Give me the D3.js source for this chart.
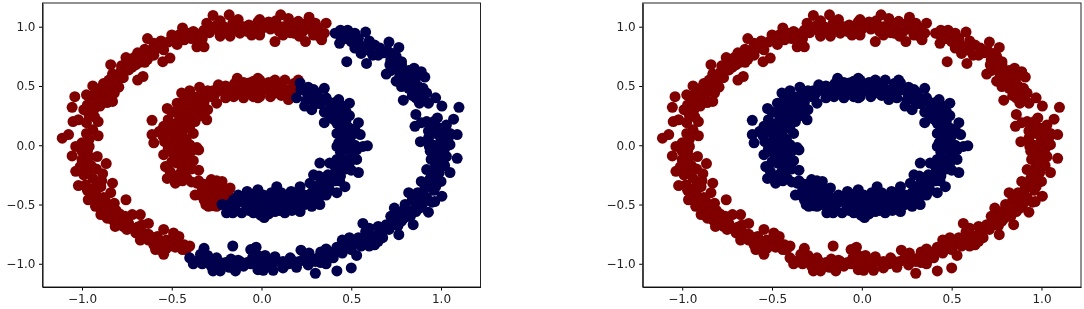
<!DOCTYPE html>
<html>
<head>
<meta charset="utf-8">
<script src="https://cdn.jsdelivr.net/npm/d3@7"></script>
<style>
  html, body { margin: 0; padding: 0; background: #fff; }
  svg { display: block; filter: blur(0.35px); }
  .tick text { font-family: "DejaVu Sans", sans-serif; font-size: 12px; fill: #222; }
</style>
</head>
<body>
<svg id="chart" width="1084" height="309"></svg>
<script>
// Values, [x, y] in data units
const outerRed = [
  [-1.11,0.06],[-1.075,0.09],[-1.04,0.41],[-1.055,0.32],[-1.05,0.2],[-1.02,0.215],[-0.975,0.425],[-0.94,0.5],
  [-0.99,0.3],[-0.935,0.3],[-0.91,0.2],[-0.975,0.19],[-0.975,0.1],[-0.91,0.08],[-1.035,-0.01],[-0.96,-0.01],
  [-0.95,0.355],[-0.905,0.385],[-0.83,0.37],[-0.895,0.48],[-0.84,0.525],[-0.795,0.49],[-0.84,0.68],[-0.785,0.62],
  [-0.81,0.565],[-0.755,0.74],[-0.69,0.55],[-0.66,0.58],[-0.74,0.635],[-0.69,0.78],[-0.65,0.81],[-0.635,0.9],
  [-0.6,0.86],[-0.56,0.88],[-0.635,0.725],[-0.6,0.76],[-0.55,0.705],[-0.51,0.735],[-0.545,0.805],[-0.5,0.93],
  [-0.47,0.85],[-0.44,0.99],[-0.415,0.92],[-0.36,0.83],[-0.32,0.83],[-0.38,0.96],[-0.32,0.97],[-0.305,1.03],
  [-0.27,1.095],[-0.245,1.015],[-0.23,0.92],[-0.18,1.1],[-0.175,0.92],[-0.13,1.06],[-0.12,0.945],[-0.07,1.015],
  [-0.055,0.93],[-0.02,1.04],[-0.01,0.93],[-0.01,1.06],[-0.045,0.96],[0.03,1.015],[0.107,1.1],[0.075,0.875],
  [0.15,1.07],[0.12,1],[0.18,0.945],[0.205,1.045],[0.265,1.08],[0.245,0.875],[0.23,0.96],[0.315,0.99],
  [0.36,1.03],[0.335,0.89],[0.35,0.945],[-0.4,-0.85],[-0.46,-0.77],[-0.49,-0.74],[-0.44,-0.88],[-0.545,-0.92],
  [-0.545,-0.71],[-0.51,-0.85],[-0.6,-0.84],[-0.58,-0.77],[-0.675,-0.8],[-0.63,-0.66],[-0.675,-0.585],[-0.665,-0.67],
  [-0.72,-0.585],[-0.755,-0.46],[-0.815,-0.685],[-0.77,-0.685],[-0.83,-0.32],[-0.84,-0.4],[-0.82,-0.49],[-0.895,-0.585],
  [-0.86,-0.615],[-0.965,-0.46],[-0.925,-0.515],[-1.02,-0.34],[-0.98,-0.335],[-0.895,-0.35],[-1.035,-0.22],[-0.96,-0.205],
  [-0.885,-0.24],[-0.865,-0.155],[-1.055,-0.09],[-0.99,-0.15],[-0.915,-0.095],[-1,-0.05],
  [-0.96,0.05],[-0.94,0.13],[-0.96,0.25],[-0.93,0.24],[-0.97,0.34],[-0.93,0.36],[-0.92,0.44],[-0.87,0.43],
  [-0.86,0.36],[-0.88,0.52],[-0.85,0.46],[-0.82,0.44],[-0.8,0.56],[-0.77,0.57],[-0.83,0.6],[-0.78,0.67],
  [-0.74,0.7],[-0.72,0.66],[-0.71,0.74],[-0.68,0.7],[-0.66,0.75],[-0.62,0.78],[-0.6,0.82],[-0.52,0.87],
  [-0.49,0.91],[-0.46,0.93],[-0.43,0.89],[-0.39,0.9],[-0.36,0.94],[-0.33,0.9],[-0.29,0.95],[-0.27,1],
  [-0.21,1],[-0.2,0.97],[-0.16,1.03],[-0.1,1],[-0.14,0.98],[-0.05,1],[0,0.98],[0.04,1.04],
  [0.05,0.98],[0.08,1.05],[0.1,0.96],[0.14,1],[0.17,1.03],[0.2,0.98],[0.27,0.98],[0.29,0.93],
  [0.25,1.03],[0.32,0.92],[-1,-0.12],[-0.96,-0.1],[-0.95,-0.17],[-0.92,-0.2],[-0.99,-0.25],[-0.94,-0.28],
  [-0.93,-0.36],[-0.89,-0.3],[-0.97,-0.05],[-0.92,-0.42],[-0.88,-0.44],[-0.9,-0.5],[-0.85,-0.53],[-0.87,-0.47],
  [-0.83,-0.58],[-0.79,-0.58],[-0.78,-0.63],[-0.74,-0.66],[-0.72,-0.7],[-0.7,-0.74],[-0.66,-0.74],[-0.63,-0.75],
  [-0.6,-0.78],[-0.56,-0.82],[-0.53,-0.8],[-0.5,-0.79],[-0.46,-0.83],[-0.42,-0.88],[-0.56,-0.87],[-0.63,-0.8],
  [-1,0.02],[-0.94,0.42],[-0.9,0.33],[-0.87,0.47],[-0.91,0.44],[-0.85,0.55],[-0.76,0.63],[-0.7,0.68],
  [-0.65,0.7],[-0.58,0.82],[-0.55,0.86],[-0.47,0.89],[-0.42,0.95],[-0.34,0.87],[-0.24,0.97],[-0.18,0.98],
  [-0.23,1.05],[-0.08,0.96],[-0.03,0.98],[0.07,1],[0.16,0.95],[0.12,0.93],[0.21,0.92],[0.3,1.03],
  [-1.01,-0.18],[-0.98,-0.2],[-0.91,-0.33],[-0.97,-0.38],[-0.94,-0.45],[-0.89,-0.55],[-0.83,-0.63],[-0.81,-0.55],
  [-0.76,-0.6],[-0.75,-0.71],[-0.69,-0.69],[-0.65,-0.78],[-0.59,-0.88],[-0.53,-0.87],[-0.48,-0.86],[-0.43,-0.84]
];
const outerBlue = [
  [0.41,0.945],[0.435,0.86],[0.48,0.97],[0.52,0.945],[0.58,0.955],[0.475,0.705],[0.5,0.875],[0.555,0.775],
  [0.585,0.69],[0.63,0.845],[0.65,0.76],[0.71,0.87],[0.765,0.825],[0.73,0.775],[0.695,0.6],[0.78,0.705],
  [0.715,0.68],[0.75,0.54],[0.78,0.495],[0.79,0.38],[0.85,0.65],[0.91,0.575],[0.89,0.62],[0.825,0.595],
  [0.845,0.455],[0.9,0.48],[0.88,0.355],[0.93,0.355],[0.97,0.4],[1.005,0.33],[1.1,0.32],[0.86,0.26],
  [0.855,0.16],[0.92,0.2],[0.945,0.16],[0.99,0.145],[1.03,0.17],[1.07,0.22],[1.09,0.09],[1.05,0.1],
  [0.885,0.03],[0.935,-0.01],[0.99,0.005],[1.05,0.005],[1.09,-0.11],[1.03,-0.095],[0.97,-0.07],[1.05,-0.23],
  [1,-0.18],[0.92,-0.205],[0.945,-0.12],[0.89,-0.305],[0.945,-0.32],[1,-0.305],[1.005,-0.43],[0.965,-0.475],
  [0.93,-0.565],[0.82,-0.4],[0.87,-0.4],[0.9,-0.49],[0.86,-0.56],[0.8,-0.5],[0.74,-0.53],[0.81,-0.6],
  [0.845,-0.67],[0.78,-0.64],[0.72,-0.6],[0.695,-0.67],[0.765,-0.755],[0.565,-0.66],[0.6,-0.7],[0.65,-0.685],
  [0.63,-0.84],[0.675,-0.78],[0.595,-0.78],[0.49,-0.78],[0.54,-0.78],[0.53,-0.93],[0.555,-0.85],[0.445,-0.85],
  [0.5,-0.88],[0.5,-1.035],[0.42,-1.06],[0.41,-0.895],[0.36,-0.875],[0.315,-0.95],[0.36,-1],[0.3,-1.08],
  [0.265,-0.91],[0.22,-0.885],[0.26,-1.01],[0.195,-1.03],[0.16,-0.95],[0.12,-1.035],[0.065,-1.055],[0.075,-0.94],
  [0.02,-0.93],[0.01,-1.055],[-0.03,-0.99],[-0.03,-0.86],[-0.035,-0.87],[-0.01,-1.02],[-0.06,-0.88],[-0.08,-0.99],
  [-0.145,-1.06],[-0.16,-0.85],[-0.12,-0.98],[-0.2,-0.99],[-0.23,-1.06],[-0.27,-1.06],[-0.25,-0.95],[-0.32,-0.87],
  [-0.305,-0.98],[-0.34,-0.92],[-0.38,-1],[-0.4,-0.95],
  [0.44,0.92],[0.47,0.9],[0.5,0.93],[0.54,0.86],[0.57,0.83],[0.6,0.8],[0.52,0.82],[0.62,0.76],
  [0.68,0.78],[0.72,0.72],[0.74,0.68],[0.76,0.64],[0.72,0.63],[0.77,0.58],[0.8,0.6],[0.83,0.55],
  [0.86,0.57],[0.82,0.48],[0.87,0.5],[0.88,0.43],[0.9,0.4],[0.86,0.4],[0.89,0.19],[0.96,0.2],
  [0.98,0.23],[1.02,0.12],[0.97,0.1],[0.93,0.12],[1,0.05],[1.04,0.06],[0.96,0],[1.02,-0.03],
  [0.98,-0.04],[0.96,-0.11],[1.01,-0.12],[0.99,-0.23],[0.95,-0.22],[0.94,-0.28],[0.97,-0.28],[0.91,-0.36],
  [0.96,-0.38],[0.92,-0.44],[0.88,-0.45],[0.84,-0.46],[0.86,-0.5],[0.82,-0.55],[0.78,-0.56],[0.75,-0.6],
  [0.76,-0.68],[0.72,-0.66],[0.68,-0.71],[0.65,-0.75],[0.62,-0.77],[0.58,-0.73],[0.57,-0.82],[0.52,-0.83],
  [0.47,-0.84],[0.45,-0.91],[0.4,-0.95],[0.33,-0.9],[0.36,-0.94],[0.3,-0.98],[0.24,-0.95],[0.21,-0.98],
  [0.15,-1],[0.09,-0.98],[0.05,-1],[0.02,-0.98],[-0.05,-0.95],[-0.02,-1.05],[-0.1,-1.02],[-0.15,-1],
  [-0.17,-0.96],[-0.22,-1.01],[-0.24,-0.98],[-0.3,-0.93],[-0.35,-0.97],[-0.28,-1.02],
  [0.44,0.97],[0.54,0.9],[0.6,0.88],[0.66,0.82],[0.7,0.8],[0.75,0.75],[0.78,0.68],[0.82,0.63],
  [0.79,0.55],[0.85,0.52],[0.84,0.42],[0.92,0.44],[0.93,0.06],[1.03,0.02],[0.94,-0.05],[1,-0.08],
  [1.02,-0.17],[0.97,-0.17],[0.97,-0.35],[0.9,-0.4],[0.95,-0.48],[0.88,-0.53],[0.83,-0.6],[0.79,-0.62],
  [0.71,-0.71],[0.65,-0.81],[0.6,-0.85],[0.5,-0.8],[0.45,-0.8],[0.42,-0.86],[0.38,-0.9],[0.33,-0.99],
  [0.28,-0.96],[0.18,-0.98],[0.12,-0.98],[-0.02,-0.93],[-0.06,-1],[-0.13,-0.97],[-0.18,-1.03],[-0.27,-0.99],[-0.33,-1]
];
const innerRed = [
  [-0.61,0.21],[-0.61,0.09],[-0.6,0.02],[-0.57,0.115],[-0.525,0.31],[-0.52,0.215],[-0.545,0.16],[-0.445,0.44],
  [-0.4,0.46],[-0.345,0.49],[-0.305,0.215],[-0.315,0.285],[-0.47,0.355],[-0.415,0.27],[-0.445,0.1],[-0.51,0.02],
  [-0.36,-0.02],[-0.4,0.005],[-0.39,0.38],[-0.36,0.33],[-0.47,0.19],[-0.36,0.41],[-0.24,0.51],[-0.25,0.355],
  [-0.195,0.44],[-0.135,0.565],[-0.155,0.41],[-0.1,0.4],[-0.07,0.525],[-0.02,0.565],[-0.045,0.41],[-0.01,0.41],
  [-0.545,-0.08],[-0.49,-0.07],[-0.535,-0.18],[-0.525,-0.28],[-0.48,-0.32],[-0.425,-0.135],[-0.35,-0.21],[-0.415,-0.28],
  [-0.35,-0.04],[-0.36,-0.32],[-0.37,-0.42],[-0.28,-0.29],[-0.295,-0.515],[-0.22,-0.305],[-0.265,-0.39],[-0.32,-0.46],
  [-0.175,-0.36],[-0.23,-0.43],[-0.25,-0.515],[-0.445,-0.22],[-0.47,-0.15],[-0.045,0.54],[-0.01,0.55],[-0.02,0.4],
  [0.05,0.41],[0.075,0.55],[0.13,0.55],[0.15,0.385],[0.205,0.55],[0.09,0.45],[0.02,0.48],[0.17,0.48],[-0.05,0.45],
  [-0.5,0.1],[-0.48,0.05],[-0.47,0.27],[-0.44,0.33],[-0.42,0.2],[-0.4,0.14],[-0.38,0.26],[-0.4,0.36],
  [-0.43,0.39],[-0.37,0.2],[-0.34,0.25],[-0.35,0.37],[-0.32,0.42],[-0.3,0.46],[-0.28,0.41],[-0.22,0.46],
  [-0.2,0.5],[-0.17,0.48],[-0.12,0.49],[-0.1,0.53],[-0.45,0.03],[-0.46,-0.04],[-0.42,0.05],[-0.5,-0.02],
  [-0.54,0.03],[-0.5,-0.14],[-0.46,-0.25],[-0.42,-0.07],[-0.39,-0.05],[-0.39,-0.2],[-0.35,-0.3],[-0.32,-0.33],
  [-0.33,-0.38],[-0.3,-0.42],[-0.27,-0.45],[-0.22,-0.38],[-0.2,-0.42],[-0.28,-0.35],[-0.25,-0.3],[-0.18,-0.43],
  [-0.2,-0.48],[0,0.5],[0.05,0.49],[0.1,0.5],[0.15,0.45],[0,0.45],[0.07,0.44],[0.18,0.52],
  [-0.55,0.08],[-0.52,0.12],[-0.49,0.17],[-0.46,0.12],[-0.43,0.15],[-0.5,0.28],[-0.45,0.24],[-0.41,0.31],
  [-0.38,0.1],[-0.44,-0.01],[-0.41,-0.03],[-0.52,-0.03],[-0.47,0.01],[-0.51,-0.22],[-0.47,-0.09],[-0.44,-0.18],
  [-0.41,-0.2],[-0.38,-0.13],[-0.48,-0.26],[-0.44,-0.3],[-0.39,-0.31],[-0.34,-0.42],[-0.31,-0.5],[-0.27,-0.51],
  [-0.24,-0.46],[-0.23,-0.35],[-0.26,-0.42],[-0.27,0.46],[-0.26,0.43],[-0.2,0.4],[-0.13,0.44],[-0.08,0.46],
  [-0.15,0.52],[-0.04,0.5],[0.04,0.53],[0.11,0.42],[0.13,0.47],[0.2,0.46],[-0.32,0.36],[-0.3,0.3],[-0.33,0.3]
];
const innerBlue = [
  [-0.22,-0.5],[-0.195,-0.57],[-0.155,-0.46],[-0.11,-0.57],[-0.08,-0.39],[-0.09,-0.49],[-0.045,-0.515],[-0.13,-0.42],
  [-0.03,-0.4],[-0.005,-0.59],[-0.045,-0.57],[-0.02,-0.375],[0.015,-0.61],[-0.01,-0.515],[0.085,-0.35],[0.055,-0.4],
  [0.13,-0.57],[0.075,-0.56],[0.165,-0.39],[0.215,-0.56],[0.215,-0.35],[0.28,-0.515],[0.325,-0.5],[0.29,-0.25],
  [0.27,-0.32],[0.325,-0.15],[0.36,-0.35],[0.42,-0.4],[0.465,-0.35],[0.38,-0.15],[0.4,-0.25],[0.435,-0.3],
  [0.54,-0.23],[0.5,-0.21],[0.53,-0.12],[0.455,-0.12],[0.49,-0.05],[0.215,0.525],[0.195,0.4],[0.28,0.3],
  [0.35,0.48],[0.29,0.47],[0.35,0.19],[0.38,0.3],[0.43,0.385],[0.49,0.355],[0.47,0.285],[0.54,0.19],
  [0.55,0.09],[0.42,-0.01],[0.49,0.145],[0.59,-0.005],[0.565,-0.01],[0.445,0.06],[0.53,-0.04],[0.42,0.185],
  [0.25,0.45],[0.22,0.47],[0.25,0.38],[0.28,0.42],[0.32,0.4],[0.33,0.35],[0.35,0.28],[0.38,0.36],
  [0.42,0.3],[0.44,0.24],[0.4,0.22],[0.47,0.2],[0.44,0.14],[0.49,0.25],[0.5,0.08],[0.46,0],
  [0.49,0.03],[0.5,-0.1],[0.44,-0.06],[0.42,-0.12],[0.47,-0.2],[0.43,-0.2],[0.37,-0.25],[0.33,-0.3],
  [0.38,-0.32],[0.33,-0.38],[0.28,-0.4],[0.24,-0.42],[0.2,-0.45],[0.17,-0.47],[0.13,-0.45],[0.1,-0.5],
  [0.08,-0.44],[0.03,-0.46],[0.03,-0.53],[-0.02,-0.45],[-0.06,-0.44],[-0.1,-0.43],[-0.15,-0.53],[-0.18,-0.5],
  [0.19,-0.51],[0.3,-0.45],[0.24,-0.5],[0.36,-0.42],
  [0.26,0.49],[0.31,0.44],[0.24,0.33],[0.3,0.35],[0.36,0.4],[0.41,0.36],[0.4,0.28],[0.45,0.33],
  [0.38,0.24],[0.42,0.1],[0.46,0.08],[0.47,0.12],[0.52,0.13],[0.45,0.04],[0.43,0.02],[0.52,0],
  [0.47,-0.03],[0.49,-0.15],[0.46,-0.16],[0.41,-0.18],[0.44,-0.26],[0.41,-0.3],[0.38,-0.38],[0.32,-0.26],
  [0.3,-0.35],[0.32,-0.44],[0.27,-0.46],[0.22,-0.41],[0.18,-0.41],[0.14,-0.52],[0.11,-0.4],[0.06,-0.5],
  [0.01,-0.42],[0.04,-0.58],[-0.03,-0.48],[-0.07,-0.55],[-0.13,-0.48],[-0.16,-0.57],[-0.06,-0.47],[0.1,-0.55],
  [0.17,-0.55],[0.23,-0.47]
];
const xTicks = [-1, -0.5, 0, 0.5, 1];
const yTicks = [-1, -0.5, 0, 0.5, 1];

const RED = '#800000';
const BLUE = '#00004c';
const R = 5.5;

const svg = d3.select('#chart');
const fmt = d3.format('.1f');

function drawPanel(left, right, layers) {
  const x = d3.scaleLinear().domain([-1.22, 1.22]).range([left, right]);
  const y = d3.scaleLinear().domain([-1.196, 1.2]).range([287, 3]);
  const g = svg.append('g');

  layers.forEach(l => {
    g.append('g').selectAll('circle')
      .data(l.points)
      .join('circle')
      .attr('cx', d => x(d[0]))
      .attr('cy', d => y(d[1]))
      .attr('r', R)
      .attr('fill', l.color);
  });

  // Axes: full box, ticks out, no outer tick
  g.append('g')
    .attr('transform', 'translate(0,287)')
    .call(d3.axisBottom(x).tickValues(xTicks).tickSize(3.5).tickPadding(3.5).tickSizeOuter(0).tickFormat(fmt));
  g.append('g')
    .attr('transform', `translate(${left},0)`)
    .call(d3.axisLeft(y).tickValues(yTicks).tickSize(3.5).tickPadding(3.5).tickSizeOuter(0).tickFormat(fmt));
  g.append('rect')
    .attr('x', left).attr('y', 3)
    .attr('width', right - left).attr('height', 284)
    .attr('fill', 'none').attr('stroke', '#222').attr('stroke-width', 1);
}

drawPanel(42.5, 480.5, [
  { points: outerRed.concat(innerRed), color: RED },
  { points: outerBlue.concat(innerBlue), color: BLUE }
]);
drawPanel(642.7, 1081, [
  { points: outerRed.concat(outerBlue), color: RED },
  { points: innerRed.concat(innerBlue), color: BLUE }
]);
</script>
</body>
</html>
